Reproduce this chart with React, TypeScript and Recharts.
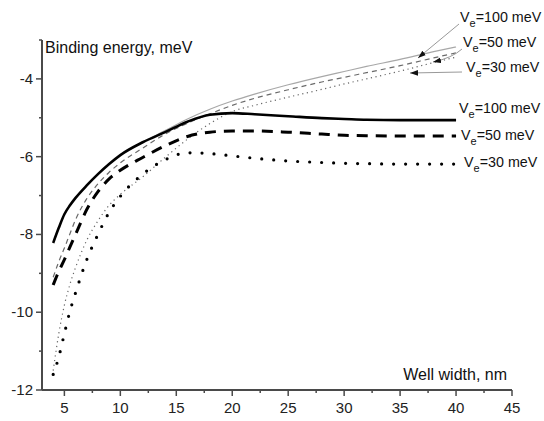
import { LineChart, Line, XAxis, YAxis } from "recharts";

// Well widths, nm
const widths = [4, 4.5, 5, 5.5, 6, 7, 8, 9, 10, 12, 14, 16, 18, 20, 22, 25, 28, 30, 32, 35, 38, 40];

// Thin curves (upper set), meV
const thin100 = [-8.22, -7.83, -7.48, -7.25, -7.06, -6.74, -6.45, -6.19, -5.96, -5.62, -5.33, -5.03, -4.78, -4.57, -4.39, -4.15, -3.94, -3.81, -3.68, -3.5, -3.3, -3.18];
const thin50 = [-9.1, -8.7, -8.35, -7.98, -7.62, -7.08, -6.7, -6.4, -6.16, -5.78, -5.42, -5.14, -4.9, -4.68, -4.5, -4.28, -4.08, -3.96, -3.84, -3.66, -3.46, -3.33];
const thin30 = [-11.5, -10.55, -9.82, -9.28, -8.85, -8.15, -7.65, -7.25, -6.97, -6.52, -6.02, -5.55, -5.15, -4.84, -4.68, -4.47, -4.27, -4.13, -4.0, -3.8, -3.58, -3.44];

// Thick curves (lower set), meV
const thick100 = [-8.22, -7.83, -7.48, -7.25, -7.06, -6.74, -6.45, -6.19, -5.96, -5.63, -5.37, -5.1, -4.92, -4.88, -4.91, -4.96, -5.01, -5.03, -5.05, -5.06, -5.06, -5.06];
const thick50 = [-9.3, -8.95, -8.65, -8.32, -8.0, -7.36, -6.9, -6.57, -6.35, -6.02, -5.72, -5.48, -5.37, -5.34, -5.34, -5.37, -5.42, -5.45, -5.46, -5.47, -5.47, -5.47];
const thick30 = [-11.6, -11.15, -10.55, -9.97, -9.5, -8.65, -8.0, -7.43, -7.02, -6.45, -6.08, -5.9, -5.92, -5.98, -6.04, -6.11, -6.15, -6.17, -6.18, -6.19, -6.19, -6.19];

// Axis ticks
const xTicks = [5, 7.5, 10, 12.5, 15, 17.5, 20, 22.5, 25, 27.5, 30, 32.5, 35, 37.5, 40, 42.5, 45];
const xLabels = [5, 10, 15, 20, 25, 30, 35, 40, 45];
const yTicks = [-12, -11, -10, -9, -8, -7, -6, -5, -4, -3];
const yLabels = [-12, -10, -8, -6, -4];

const data = widths.map((w, i) => ({
	w,
	thin100: thin100[i],
	thin50: thin50[i],
	thin30: thin30[i],
	thick100: thick100[i],
	thick50: thick50[i],
	thick30: thick30[i],
}));

const font = "Arial, 'Liberation Sans', sans-serif";
const axisColor = "#4a4a4a";

const XTick = (props: any) => {
	const { x, y, payload } = props;
	const major = xLabels.includes(payload.value);
	return (
		<g>
			<line x1={x} x2={x} y1={y} y2={y + (major ? 6 : 3)} stroke={axisColor} strokeWidth={1.5} />
			{major && (
				<text x={x} y={y + 23} textAnchor="middle" fontSize={15} fontFamily={font} fill="#222">
					{payload.value}
				</text>
			)}
		</g>
	);
};

const YTick = (props: any) => {
	const { x, y, payload } = props;
	const major = yLabels.includes(payload.value);
	return (
		<g>
			<line x1={x} x2={x - (major ? 6 : 3)} y1={y} y2={y} stroke={axisColor} strokeWidth={1.5} />
			{major && (
				<text x={x - 9} y={y + 5} textAnchor="end" fontSize={15} fontFamily={font} fill="#222">
					{payload.value}
				</text>
			)}
		</g>
	);
};

const Ve = ({ x, y, value }: { x: number; y: number; value: string }) => (
	<text x={x} y={y} fontSize={14.3} fontFamily={font} fill="#111">
		<tspan>V</tspan>
		<tspan dy={5} fontSize={11}>e</tspan>
		<tspan dy={-5}>{"=" + value + " meV"}</tspan>
	</text>
);

export default function App() {
	return (
		<div style={{ position: "relative", width: 544, height: 421, background: "#fff" }}>
			<style>{"body{margin:0}"}</style>
			<LineChart width={544} height={421} data={data} margin={{ top: 40, right: 32, bottom: 0, left: 0 }}>
				<XAxis
					dataKey="w"
					type="number"
					domain={[3, 45]}
					ticks={xTicks}
					interval={0}
					height={31}
					tickSize={0}
					tickMargin={0}
					tickLine={false}
					axisLine={{ stroke: axisColor, strokeWidth: 2 }}
					tick={<XTick />}
				/>
				<YAxis
					type="number"
					domain={[-12, -3]}
					ticks={yTicks}
					interval={0}
					width={42}
					tickSize={0}
					tickMargin={0}
					tickLine={false}
					axisLine={{ stroke: axisColor, strokeWidth: 2 }}
					tick={<YTick />}
				/>
				<Line dataKey="thin100" type="monotone" stroke="#a8a8a8" strokeWidth={1.2} dot={false} isAnimationActive={false} />
				<Line dataKey="thin50" type="monotone" stroke="#6a6a6a" strokeWidth={1.2} strokeDasharray="5 4" dot={false} isAnimationActive={false} />
				<Line dataKey="thin30" type="monotone" stroke="#666" strokeWidth={1.2} strokeDasharray="1.2 3.5" dot={false} isAnimationActive={false} />
				<Line dataKey="thick100" type="monotone" stroke="#000" strokeWidth={2.6} dot={false} isAnimationActive={false} />
				<Line dataKey="thick50" type="monotone" stroke="#000" strokeWidth={3} strokeDasharray="11 8" dot={false} isAnimationActive={false} />
				<Line dataKey="thick30" type="monotone" stroke="#000" strokeWidth={3.2} strokeDasharray="0 12" strokeLinecap="round" dot={false} isAnimationActive={false} />
			</LineChart>
			<svg width={544} height={421} style={{ position: "absolute", left: 0, top: 0, pointerEvents: "none" }}>
				<defs>
					<marker id="ah" viewBox="0 0 10 10" refX={10} refY={5} markerWidth={8} markerHeight={8} orient="auto">
						<path d="M0,1.5 L10,5 L0,8.5 z" fill="#111" />
					</marker>
				</defs>
				<text x={45} y={53} fontSize={16} fontFamily={font} fill="#111">
					Binding energy, meV
				</text>
				<text x={507} y={380} textAnchor="end" fontSize={16} fontFamily={font} fill="#111">
					Well width, nm
				</text>
				<line x1={459} y1={24} x2={418} y2={58} stroke="#999" strokeWidth={1} markerEnd="url(#ah)" />
				<path d="M462,49 Q452,58 433,62" fill="none" stroke="#999" strokeWidth={1} markerEnd="url(#ah)" />
				<line x1={462} y1={72} x2={410} y2={73} stroke="#999" strokeWidth={1} markerEnd="url(#ah)" />
				<Ve x={460} y={22} value="100" />
				<Ve x={463} y={47} value="50" />
				<Ve x={466} y={72} value="30" />
				<Ve x={459} y={113} value="100" />
				<Ve x={461} y={140} value="50" />
				<Ve x={464} y={167} value="30" />
			</svg>
		</div>
	);
}
